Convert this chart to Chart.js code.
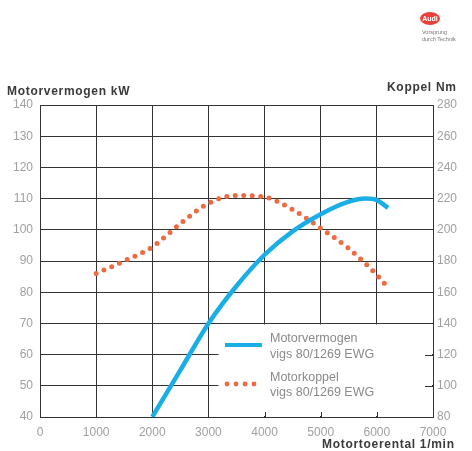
<!DOCTYPE html>
<html><head><meta charset="utf-8">
<script src="https://cdn.jsdelivr.net/npm/chart.js@4/dist/chart.umd.min.js"></script>
<style>
html,body{margin:0;padding:0;background:#fff;}
#wrap{position:relative;width:472px;height:451px;font-family:"Liberation Sans",Arial,sans-serif;}
canvas{position:absolute;left:0;top:0;}
.t{position:absolute;white-space:nowrap;}
.title{font-weight:bold;font-size:12px;color:#3a3a3a;letter-spacing:0.7px;line-height:14px;}
.leg{font-size:12.5px;color:#8a8a8a;line-height:16px;}
</style></head>
<body><div id="wrap">
<canvas id="c" width="472" height="451"></canvas>
<div class="t title" style="left:7px;top:84px;">Motorvermogen kW</div>
<div class="t title" style="left:387px;top:80px;">Koppel Nm</div>
<div class="t title" style="left:322px;top:437px;">Motortoerental 1/min</div>
<div class="t leg" style="left:270px;top:330px;">Motorvermogen<br>vigs 80/1269 EWG</div>
<div class="t leg" style="left:270px;top:370px;line-height:15px;">Motorkoppel<br>vigs 80/1269 EWG</div>
<div class="t" style="left:420px;top:12px;width:20px;height:13px;border-radius:50%;background:#e8403a;color:#fff;font-size:7px;font-weight:bold;text-align:center;line-height:13px;">Audi</div>
<div class="t" style="left:422px;top:29px;font-size:5.5px;color:#777;line-height:7px;">Vorsprung<br>durch Technik</div>
</div>
<script>
const rpmPower = [2000,2500,3000,3500,4000,4500,5000,5500,5800,6000,6200];
const powerKW  = [40,55,70,82,92,99.5,105,109,110,109.5,107];
const rpmTorque = [1000,1500,2000,2500,3000,3500,4000,4500,5000,5500,6000,6200];
const torqueNm  = [172,180,189,204,217,222,221,213,201,188,171,163];
const xTicks = [0,1000,2000,3000,4000,5000,6000,7000];
const kwTicks = [40,50,60,70,80,90,100,110,120,130,140];
const nmTicks = [80,100,120,140,160,180,200,220,240,260,280];

const BLUE = '#1aaee6', RED = '#ee6a40', GRID = '#333333', TICK = '#a0a0a0';

const legendBox = {
  id:'legendBox',
  beforeDatasetsDraw(chart){
    const {ctx, chartArea:a, scales:{x,y,y2}} = chart;
    const x0 = x.getPixelForValue(3180), y0 = y.getPixelForValue(70)+1;
    ctx.save();
    ctx.fillStyle='#fff';
    ctx.fillRect(x0, y0, a.right-1-x0, a.bottom-1-y0);
    ctx.strokeStyle=GRID; ctx.lineWidth=1;
    ctx.beginPath();
    [4000,5000,6000].forEach(v=>{const px=Math.round(x.getPixelForValue(v))+0.5; ctx.moveTo(px,a.bottom); ctx.lineTo(px,a.bottom-5);});
    [120,100].forEach(v=>{const py=Math.round(y2.getPixelForValue(v))+0.5; ctx.moveTo(a.right,py); ctx.lineTo(a.right-8,py);});
    ctx.stroke();
    ctx.strokeStyle=BLUE; ctx.lineWidth=4;
    ctx.beginPath(); ctx.moveTo(225,345); ctx.lineTo(262,345); ctx.stroke();
    ctx.fillStyle=RED;
    for(let px=227; px<=262; px+=9){ctx.beginPath(); ctx.arc(px,384,2.4,0,Math.PI*2); ctx.fill();}
    ctx.restore();
  }
};

const tickFont = {family:'Liberation Sans', size:12};

new Chart(document.getElementById('c'), {
  type:'line',
  data:{datasets:[
    {label:'Motorvermogen', data:rpmPower.map((r,i)=>({x:r,y:powerKW[i]})), yAxisID:'y',
     borderColor:BLUE, borderWidth:4.5, pointRadius:0, cubicInterpolationMode:'monotone', fill:false},
    {label:'Motorkoppel', data:rpmTorque.map((r,i)=>({x:r,y:torqueNm[i]})), yAxisID:'y2',
     borderColor:RED, borderWidth:5, borderDash:[0,8.5], borderCapStyle:'round', pointRadius:0,
     cubicInterpolationMode:'monotone', fill:false}
  ]},
  options:{
    responsive:false, animation:false,
    layout:{padding:{top:105,left:0,right:0,bottom:0}},
    plugins:{legend:{display:false}, tooltip:{enabled:false}},
    scales:{
      x:{type:'linear', min:0, max:7000,
        afterBuildTicks:s=>{s.ticks=xTicks.map(v=>({value:v}));},
        afterFit:s=>{s.height=34;},
        grid:{color:GRID, lineWidth:1, drawTicks:false},
        border:{color:GRID, width:1},
        ticks:{color:TICK, font:tickFont, padding:8, callback:v=>String(v), maxRotation:0}},
      y:{position:'left', min:40, max:140,
        afterBuildTicks:s=>{s.ticks=kwTicks.map(v=>({value:v}));},
        afterFit:s=>{s.width=40;},
        grid:{color:GRID, lineWidth:1, drawTicks:false},
        border:{color:GRID, width:1},
        ticks:{color:TICK, font:tickFont, padding:7, callback:v=>String(v)}},
      y2:{position:'right', min:80, max:280,
        afterBuildTicks:s=>{s.ticks=nmTicks.map(v=>({value:v}));},
        afterFit:s=>{s.width=39;},
        grid:{display:false, drawTicks:false},
        border:{color:GRID, width:1},
        ticks:{color:TICK, font:tickFont, padding:4, callback:v=>String(v)}}
    }
  },
  plugins:[legendBox]
});
</script>
</body></html>
